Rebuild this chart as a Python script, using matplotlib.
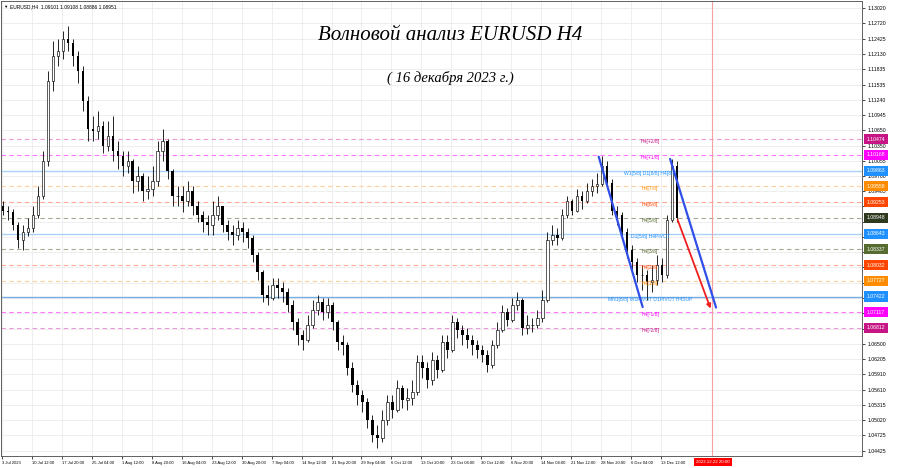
import matplotlib
matplotlib.use('Agg')
import matplotlib.pyplot as plt
import matplotlib.transforms as mtransforms
import numpy as np

plt.rcParams['font.family'] = ['Liberation Sans', 'DejaVu Sans']

# EURUSD H4, 3 Jul - 15 Dec 2023 (each candle ~ 5 H4 bars)
first_open = 1.09180
closes = [
    1.09090, 1.09052, 1.08800, 1.08510, 1.08664, 1.08742, 1.08994, 1.09381, 1.10058, 1.11607,
    1.12091, 1.12188, 1.12420, 1.12343, 1.12091, 1.11801, 1.11220, 1.10678, 1.10639, 1.10736,
    1.10349, 1.10542, 1.10252, 1.10155, 1.09962, 1.10058, 1.09671, 1.09768, 1.09478, 1.09516,
    1.09671, 1.10252, 1.10446, 1.09865, 1.09381, 1.09381, 1.09284, 1.09478, 1.09187, 1.08994,
    1.08858, 1.08800, 1.08994, 1.09187, 1.08800, 1.08664, 1.08606, 1.08742, 1.08664, 1.08548,
    1.08219, 1.07890, 1.07445, 1.07387, 1.07638, 1.07580, 1.07503, 1.07251, 1.06922, 1.06670,
    1.06574, 1.06864, 1.07154, 1.07309, 1.07116, 1.07251, 1.06922, 1.06535, 1.06477, 1.06032,
    1.05702, 1.05509, 1.05373, 1.05025, 1.04734, 1.04676, 1.05025, 1.05373, 1.05218, 1.05644,
    1.05412, 1.05451, 1.05567, 1.06148, 1.06032, 1.05799, 1.06186, 1.05993, 1.06535, 1.06380,
    1.06922, 1.06767, 1.06670, 1.06574, 1.06477, 1.06380, 1.06283, 1.06090, 1.06477, 1.06767,
    1.07116, 1.06961, 1.07251, 1.07348, 1.06806, 1.06864, 1.06864, 1.07000, 1.07348, 1.08510,
    1.08606, 1.08548, 1.08994, 1.09284, 1.09090, 1.09381, 1.09284, 1.09478, 1.09574, 1.09613,
    1.09962, 1.09632, 1.09090, 1.08994, 1.08664, 1.08316, 1.08084, 1.07832, 1.07832, 1.07696,
    1.07735, 1.08026, 1.07832, 1.08897, 1.09962, 1.08951,
]
highs = [
    1.09284, 1.09187, 1.09129, 1.08858, 1.08800, 1.08936, 1.09187, 1.09574, 1.10252, 1.11801,
    1.12382, 1.12420, 1.12575, 1.12672, 1.12420, 1.12188, 1.11898, 1.11317, 1.10930, 1.11026,
    1.10833, 1.10833, 1.10930, 1.10446, 1.10252, 1.10252, 1.10097, 1.09962, 1.09826, 1.09768,
    1.09962, 1.10446, 1.10678, 1.10484, 1.09904, 1.09574, 1.09574, 1.09671, 1.09574, 1.09284,
    1.09090, 1.08994, 1.09284, 1.09381, 1.09187, 1.08897, 1.08800, 1.08897, 1.08858, 1.08742,
    1.08606, 1.08277, 1.07929, 1.07638, 1.07774, 1.07774, 1.07696, 1.07580, 1.07348, 1.07000,
    1.06767, 1.07058, 1.07348, 1.07445, 1.07387, 1.07387, 1.07309, 1.06961, 1.06670, 1.06535,
    1.06148, 1.05799, 1.05606, 1.05451, 1.05122, 1.04928, 1.05218, 1.05509, 1.05509, 1.05799,
    1.05702, 1.05644, 1.05799, 1.06283, 1.06283, 1.06148, 1.06341, 1.06283, 1.06670, 1.06670,
    1.07058, 1.07000, 1.06864, 1.06806, 1.06670, 1.06574, 1.06477, 1.06380, 1.06574, 1.06922,
    1.07251, 1.07193, 1.07387, 1.07503, 1.07387, 1.07058, 1.07000, 1.07154, 1.07542, 1.08664,
    1.08800, 1.08742, 1.09129, 1.09381, 1.09323, 1.09516, 1.09478, 1.09632, 1.09710, 1.09826,
    1.10155, 1.10058, 1.09710, 1.09187, 1.09052, 1.08742, 1.08413, 1.08161, 1.08026, 1.07929,
    1.08026, 1.08219, 1.08161, 1.08994, 1.10097, 1.10058,
]
lows = [
    1.08994, 1.08897, 1.08703, 1.08355, 1.08316, 1.08587, 1.08664, 1.08936, 1.09323, 1.09962,
    1.11414, 1.11898, 1.12033, 1.12188, 1.11898, 1.11568, 1.11026, 1.10446, 1.10446, 1.10484,
    1.10213, 1.10252, 1.10058, 1.09904, 1.09768, 1.09826, 1.09439, 1.09478, 1.09284, 1.09323,
    1.09381, 1.09574, 1.10058, 1.09710, 1.09187, 1.09187, 1.09052, 1.09187, 1.08994, 1.08858,
    1.08664, 1.08606, 1.08606, 1.08897, 1.08664, 1.08510, 1.08413, 1.08510, 1.08471, 1.08355,
    1.08084, 1.07735, 1.07309, 1.07251, 1.07348, 1.07387, 1.07309, 1.07116, 1.06767, 1.06477,
    1.06380, 1.06535, 1.06806, 1.07058, 1.06961, 1.07000, 1.06767, 1.06380, 1.06283, 1.05896,
    1.05567, 1.05315, 1.05180, 1.04870, 1.04599, 1.04483, 1.04599, 1.04928, 1.05064, 1.05180,
    1.05257, 1.05218, 1.05315, 1.05509, 1.05838, 1.05644, 1.05702, 1.05838, 1.05954, 1.06225,
    1.06341, 1.06612, 1.06477, 1.06419, 1.06283, 1.06225, 1.06148, 1.05954, 1.06032, 1.06419,
    1.06728, 1.06845, 1.06922, 1.07154, 1.06670, 1.06690, 1.06728, 1.06806, 1.06922, 1.07309,
    1.08413, 1.08413, 1.08510, 1.08936, 1.08994, 1.09052, 1.09129, 1.09245, 1.09381, 1.09439,
    1.09574, 1.09516, 1.08994, 1.08800, 1.08510, 1.08161, 1.07929, 1.07696, 1.07542, 1.07348,
    1.07503, 1.07638, 1.07696, 1.07774, 1.08858, 1.08858,
]

date_labels = ['3 Jul 2023', '10 Jul 12:00', '17 Jul 20:00', '25 Jul 04:00', '1 Aug 12:00',
               '8 Aug 20:00', '16 Aug 04:00', '23 Aug 12:00', '30 Aug 20:00', '7 Sep 04:00',
               '14 Sep 12:00', '21 Sep 20:00', '29 Sep 04:00', '6 Oct 12:00', '13 Oct 20:00',
               '23 Oct 04:00', '30 Oct 12:00', '6 Nov 20:00', '14 Nov 04:00', '21 Nov 12:00',
               '28 Nov 20:00', '6 Dec 04:00', '13 Dec 12:00']
price_ticks = [1.13020, 1.12720, 1.12425, 1.12130, 1.11835, 1.11535, 1.11240, 1.10945, 1.10650,
               1.10350, 1.10055, 1.09760, 1.09465, 1.09170, 1.08870, 1.08575, 1.08280, 1.07985,
               1.07690, 1.07390, 1.07095, 1.06800, 1.06500, 1.06205, 1.05910, 1.05610, 1.05315,
               1.05020, 1.04725, 1.04425]

# Murrey levels
levels = [1.10474, 1.10168, 1.09863, 1.09558, 1.09253, 1.08948, 1.08643,
          1.08337, 1.08032, 1.07727, 1.07422, 1.07117, 1.06812]
level_names = ['H4[+2/8]', 'H4[+1/8]', 'W1[5/8] D1[8/8] H4[8/8]', 'H4[7/8]', 'H4[6/8]',
               'H4[5/8]', 'D1[5/8] H4PIVOT', 'H4[3/8]', 'H4[2/8]', 'H4[1/8]',
               'MN1[6/8] W1PIVOT D1PIVOT H4SUP', 'H4[-1/8]', 'H4[-2/8]']
level_colors = ['#C71585', '#FF00FF', '#1E90FF', '#FF8C00', '#FF4500', '#2E3A1F', '#1E90FF',
                '#556B2F', '#FF4500', '#FF8C00', '#1E90FF', '#FF00FF', '#C71585']
text_colors = ['#C71585', '#FF00FF', '#1E90FF', '#FF8C00', '#FF4500', '#556B2F', '#1E90FF',
               '#556B2F', '#FF4500', '#FF8C00', '#1E90FF', '#FF00FF', '#C71585']
line_colors = ['#EC98D8', '#FF77FF', '#A9D2F8', '#FFCFA0', '#FFA898', '#A8A892', '#A9D2F8',
               '#A8A892', '#FFA898', '#FFCFA0', '#7AAEE0', '#FF77FF', '#EC98D8']
line_solid = [False, False, True, False, False, False, True, False, False, False, True, False, False]

future_bar = 142.0
future_label = '2023.12.22 20:00'
blue_lines = [((119.3, 1.10136), (128.1, 1.07218)), ((133.6, 1.10091), (142.8, 1.07207))]
red_arrow = ((135.1, 1.08910), (141.7, 1.07187))

fig = plt.figure(figsize=(9, 4.68), dpi=100)
ax = fig.add_axes([0.001, 12 / 468, 861 / 900, 455 / 468])
ax.set_xlim(-0.4, 172.0)
ax.set_ylim(1.04327, 1.13156)

# candles
c = np.array(closes)
o = np.array([first_open] + closes[:-1])
h = np.maximum(np.array(highs), np.maximum(o, c))
l = np.minimum(np.array(lows), np.minimum(o, c))
x = np.arange(len(c))
up = c >= o
ax.vlines(x, l, h, color='black', lw=0.6, zorder=3)
ax.bar(x[up], (c - o)[up], bottom=o[up], width=0.5, facecolor='white',
       edgecolor='black', lw=0.45, zorder=4)
ax.bar(x[~up], (c - o)[~up], bottom=o[~up], width=0.5, color='black', lw=0, zorder=4)

# level lines, labels and price boxes
trans = mtransforms.blended_transform_factory(ax.transAxes, ax.transData)
for lv, name, bc, tc, lc, solid in zip(levels, level_names, level_colors, text_colors,
                                        line_colors, line_solid):
    ax.axhline(lv, color=lc, lw=1.0 if solid else 0.8, ls='-' if solid else (0, (4, 3)), zorder=2)
    ax.annotate(name, (129.6, lv), xytext=(0, -1.8), textcoords='offset points',
                ha='center', va='center', fontsize=3.6, color=tc, zorder=5)
    ax.text(1.006, lv, f'{lv:.5f}', transform=trans, fontsize=3.7, color='white',
            ha='left', va='center', clip_on=False, zorder=6,
            bbox=dict(boxstyle='square,pad=0.5', fc=bc, ec='none'))

# trend lines
for (x0, y0), (x1, y1) in blue_lines:
    ax.plot([x0, x1], [y0, y1], color='#2F4FE8', lw=1.6, zorder=5, solid_capstyle='round')
ax.annotate('', xy=red_arrow[1], xytext=red_arrow[0], zorder=5,
            arrowprops=dict(arrowstyle='-|>', color='#F01E1E', lw=1.3,
                            mutation_scale=6, shrinkA=0, shrinkB=0))

# future time marker
ax.axvline(future_bar, color='#F5A0A0', lw=0.8, zorder=2)
tb = mtransforms.blended_transform_factory(ax.transData, ax.transAxes)
ax.text(future_bar + 0.2, -0.009, future_label, transform=tb, fontsize=3.2, color='white',
        ha='center', va='top', clip_on=False, zorder=6,
        bbox=dict(boxstyle='square,pad=0.4', fc='#FF0000', ec='none'))

# axes (price labels hidden behind level boxes are left blank, as in the terminal)
ax.yaxis.tick_right()
ytl = [f'{v:.5f}' if min(abs(v - lv) for lv in levels) > 0.0009 else '' for v in price_ticks]
ax.set_yticks(price_ticks, ytl)
ax.set_xticks(np.arange(len(date_labels)) * 6 - 0.2, date_labels, ha='left')
ax.tick_params(axis='y', labelsize=3.7, length=2, pad=2.0, width=0.5)
ax.tick_params(axis='x', labelsize=3.0, length=2, pad=1.5, width=0.5)
ax.grid(color='#EBEBEB', lw=0.6, zorder=0)
ax.set_axisbelow(True)
for s in ax.spines.values():
    s.set_color('#606060')
    s.set_linewidth(0.7)

# header and titles
ax.text(0.003, 0.992, '\u25bc', transform=ax.transAxes, fontsize=3.2, va='top', ha='left')
ax.text(0.011, 0.993, 'EURUSD,H4  1.09101 1.09108 1.08886 1.08951', transform=ax.transAxes,
        fontsize=3.5, va='top', ha='left')
fig.text(0.5, 0.925, 'Волновой анализ EURUSD H4', ha='center', va='center',
         fontsize=15, style='italic', family='Liberation Serif')
fig.text(0.5, 0.833, '( 16 декабря 2023 г.)', ha='center', va='center',
         fontsize=10.5, style='italic', family='Liberation Serif')

fig.savefig('out.png', dpi=100, facecolor='white')
